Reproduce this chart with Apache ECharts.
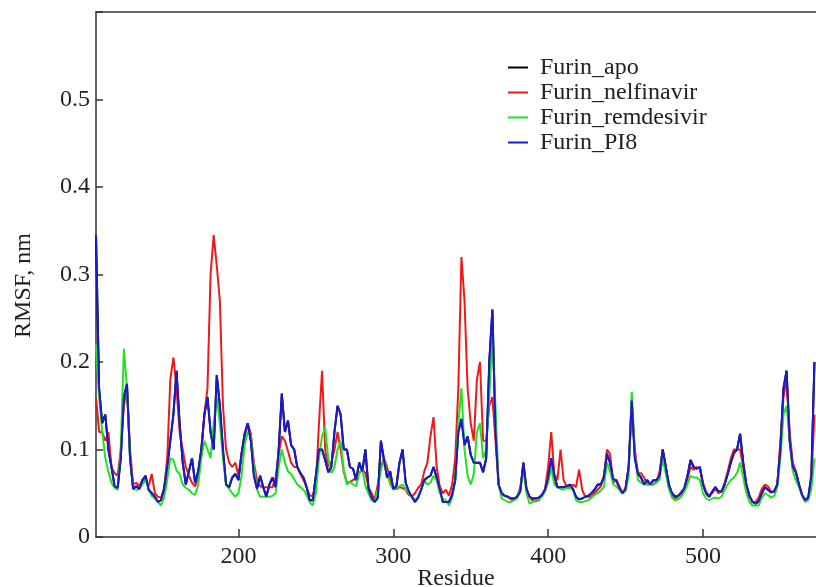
<!DOCTYPE html>
<html>
<head>
<meta charset="utf-8">
<script src="https://cdn.jsdelivr.net/npm/echarts@6/dist/echarts.min.js"></script>
<style>html,body{margin:0;padding:0;background:#fff}#c{width:816px;height:587px}</style>
</head>
<body>
<div id="c"></div>
<script>
// Residue numbers sampled every 2 residues from 108 to 572
const residueStart = 108, residueStep = 2;
const seriesNames = ['Furin_apo', 'Furin_nelfinavir', 'Furin_remdesivir', 'Furin_PI8'];
const xTickValues = [200, 300, 400, 500];

const nelfinavirValues = [
0.16,0.12,0.12,0.11,0.12,0.08,0.073,0.07,0.1,0.15,
0.17,0.1,0.06,0.062,0.058,0.065,0.065,0.058,0.072,0.05,
0.046,0.045,0.056,0.09,0.18,0.205,0.17,0.12,0.1,0.08,
0.07,0.062,0.058,0.068,0.095,0.14,0.17,0.3,0.345,0.31,
0.27,0.15,0.1,0.085,0.08,0.085,0.07,0.095,0.113,0.13,
0.118,0.085,0.065,0.058,0.057,0.057,0.057,0.057,0.068,0.095,
0.115,0.11,0.098,0.085,0.08,0.08,0.072,0.065,0.057,0.048,
0.046,0.06,0.13,0.19,0.1,0.08,0.085,0.1,0.12,0.1,
0.075,0.062,0.063,0.065,0.068,0.073,0.077,0.073,0.057,0.05,
0.043,0.06,0.08,0.09,0.08,0.065,0.055,0.055,0.057,0.056,
0.054,0.048,0.046,0.05,0.056,0.06,0.075,0.085,0.115,0.137,
0.08,0.058,0.05,0.054,0.047,0.06,0.09,0.17,0.32,0.27,
0.17,0.13,0.11,0.18,0.2,0.11,0.11,0.15,0.16,0.11,
0.06,0.05,0.047,0.046,0.043,0.043,0.046,0.057,0.08,0.055,
0.046,0.041,0.041,0.042,0.048,0.055,0.08,0.12,0.072,0.065,
0.1,0.065,0.058,0.058,0.06,0.057,0.077,0.054,0.046,0.046,
0.046,0.05,0.054,0.058,0.07,0.1,0.095,0.062,0.065,0.058,
0.05,0.056,0.078,0.15,0.1,0.073,0.073,0.068,0.06,0.06,
0.06,0.063,0.075,0.1,0.08,0.056,0.047,0.042,0.047,0.052,
0.055,0.066,0.08,0.077,0.08,0.078,0.062,0.052,0.047,0.05,
0.055,0.05,0.052,0.062,0.075,0.09,0.1,0.1,0.1,0.08,
0.058,0.047,0.04,0.04,0.045,0.055,0.06,0.058,0.052,0.052,
0.06,0.11,0.16,0.18,0.12,0.085,0.075,0.06,0.048,0.042,
0.045,0.065,0.14];

const remdesivirValues = [
0.22,0.16,0.12,0.09,0.075,0.062,0.056,0.054,0.1,0.215,
0.17,0.09,0.055,0.054,0.055,0.06,0.065,0.055,0.047,0.044,
0.04,0.036,0.045,0.065,0.09,0.088,0.076,0.072,0.06,0.056,
0.054,0.05,0.048,0.06,0.09,0.11,0.1,0.09,0.13,0.16,
0.13,0.09,0.06,0.055,0.05,0.046,0.05,0.07,0.105,0.12,
0.115,0.08,0.054,0.046,0.046,0.046,0.046,0.047,0.05,0.08,
0.1,0.085,0.075,0.072,0.066,0.06,0.057,0.054,0.048,0.04,
0.036,0.05,0.09,0.115,0.125,0.09,0.073,0.08,0.1,0.11,
0.077,0.06,0.063,0.06,0.058,0.073,0.078,0.058,0.05,0.042,
0.04,0.055,0.077,0.088,0.072,0.06,0.054,0.056,0.058,0.06,
0.055,0.05,0.046,0.042,0.046,0.054,0.064,0.06,0.062,0.07,
0.065,0.05,0.044,0.042,0.036,0.045,0.065,0.13,0.17,0.1,
0.07,0.06,0.072,0.12,0.13,0.09,0.1,0.16,0.23,0.15,
0.06,0.044,0.042,0.04,0.04,0.042,0.044,0.055,0.077,0.05,
0.038,0.04,0.042,0.043,0.046,0.052,0.062,0.08,0.06,0.057,
0.055,0.054,0.056,0.056,0.054,0.042,0.04,0.04,0.041,0.042,
0.045,0.048,0.05,0.053,0.057,0.085,0.075,0.06,0.058,0.054,
0.05,0.052,0.07,0.166,0.095,0.065,0.062,0.06,0.06,0.06,
0.06,0.062,0.066,0.09,0.072,0.055,0.045,0.042,0.043,0.046,
0.052,0.06,0.07,0.068,0.068,0.065,0.05,0.044,0.042,0.044,
0.045,0.044,0.046,0.054,0.06,0.065,0.068,0.073,0.085,0.068,
0.05,0.04,0.036,0.036,0.036,0.045,0.05,0.048,0.045,0.047,
0.057,0.09,0.14,0.15,0.11,0.075,0.065,0.057,0.047,0.04,
0.042,0.055,0.09];

const pi8Values = [
0.345,0.17,0.13,0.14,0.1,0.08,0.058,0.056,0.09,0.16,
0.175,0.09,0.055,0.058,0.055,0.065,0.07,0.054,0.05,0.046,
0.04,0.042,0.055,0.08,0.11,0.14,0.19,0.13,0.085,0.06,
0.075,0.09,0.062,0.075,0.1,0.14,0.16,0.12,0.1,0.185,
0.15,0.1,0.06,0.057,0.068,0.072,0.065,0.095,0.118,0.13,
0.11,0.07,0.055,0.07,0.057,0.046,0.06,0.068,0.057,0.1,
0.164,0.12,0.133,0.105,0.1,0.08,0.073,0.068,0.057,0.042,
0.042,0.07,0.1,0.1,0.088,0.074,0.08,0.12,0.15,0.14,
0.1,0.1,0.08,0.078,0.065,0.085,0.075,0.1,0.055,0.045,
0.04,0.045,0.11,0.088,0.068,0.075,0.055,0.058,0.085,0.1,
0.062,0.052,0.046,0.04,0.045,0.054,0.065,0.068,0.07,0.08,
0.068,0.055,0.04,0.04,0.04,0.048,0.065,0.12,0.135,0.105,
0.115,0.094,0.085,0.085,0.085,0.074,0.09,0.2,0.26,0.12,
0.06,0.05,0.047,0.046,0.044,0.044,0.046,0.052,0.085,0.055,
0.046,0.044,0.044,0.045,0.048,0.054,0.068,0.09,0.07,0.057,
0.057,0.057,0.058,0.06,0.055,0.046,0.043,0.044,0.046,0.047,
0.05,0.054,0.06,0.06,0.068,0.095,0.085,0.066,0.065,0.056,
0.05,0.055,0.08,0.156,0.09,0.072,0.068,0.06,0.065,0.06,
0.065,0.065,0.07,0.1,0.08,0.06,0.05,0.046,0.047,0.05,
0.056,0.07,0.088,0.08,0.078,0.08,0.06,0.05,0.046,0.052,
0.057,0.052,0.052,0.06,0.072,0.085,0.096,0.1,0.118,0.085,
0.06,0.047,0.04,0.038,0.041,0.05,0.057,0.054,0.051,0.052,
0.06,0.1,0.17,0.19,0.11,0.08,0.074,0.06,0.048,0.042,
0.045,0.07,0.2];

// apo profile coincides with PI8 and is hidden underneath the other traces
const apoValues = pi8Values;

const colors = ['#000000', '#ee1a1a', '#22e022', '#1a1acc'];
const valueSets = [apoValues, nelfinavirValues, remdesivirValues, pi8Values];

function pairs(vals) {
  return vals.map((v, i) => [residueStart + i * residueStep, v]);
}

const font = 'Liberation Serif, DejaVu Serif, serif';
const chart = echarts.init(document.getElementById('c'), null, {renderer: 'canvas'});
chart.setOption({
  animation: false,
  backgroundColor: '#fff',
  grid: {left: 96, right: 0, top: 12, bottom: 50, containLabel: false, outerBoundsMode: 'none'},
  legend: {
    orient: 'vertical', left: 503, top: 50, itemGap: 0,
    icon: 'rect', itemWidth: 20, itemHeight: 2,
    data: seriesNames,
    textStyle: {fontFamily: font, fontSize: 24, color: '#222', lineHeight: 25, padding: [0, 0, 0, 7]}
  },
  xAxis: [{
    type: 'value', min: 108, max: 573, position: 'bottom',
    name: 'Residue', nameLocation: 'middle', nameGap: 30, nameMoveOverlap: false,
    nameTextStyle: {fontFamily: font, fontSize: 24, color: '#222', verticalAlign: 'top'},
    axisLine: {show: true, lineStyle: {color: '#333', width: 1.5}},
    axisTick: {show: true, inside: true, length: 8, customValues: xTickValues, lineStyle: {color: '#333', width: 1.5}},
    axisLabel: {fontFamily: font, fontSize: 24, color: '#222', margin: 8, customValues: xTickValues},
    splitLine: {show: false}
  }, {
    type: 'value', min: 108, max: 573, position: 'top',
    axisLine: {show: true, lineStyle: {color: '#333', width: 1.5}},
    axisTick: {show: false}, axisLabel: {show: false}, splitLine: {show: false}
  }],
  yAxis: {
    type: 'value', min: 0, max: 0.6, interval: 0.1,
    name: 'RMSF, nm', nameLocation: 'middle', nameGap: 60, nameMoveOverlap: false,
    nameTextStyle: {fontFamily: font, fontSize: 24, color: '#222', padding: [0, 22, 0, 0]},
    axisLine: {show: true, lineStyle: {color: '#333', width: 1.5}},
    axisTick: {show: true, inside: true, length: 7, lineStyle: {color: '#333', width: 1.5}},
    axisLabel: {
      fontFamily: font, fontSize: 24, color: '#222', margin: 6,
      formatter: v => (v > 0.55 ? '' : (v === 0 ? '0' : v.toFixed(1)))
    },
    splitLine: {show: false}
  },
  series: seriesNames.map((n, i) => ({
    name: n, type: 'line', data: pairs(valueSets[i]),
    showSymbol: false, symbol: 'none',
    lineStyle: {color: colors[i], width: 2},
    itemStyle: {color: colors[i]},
    z: 2 + i
  }))
});
</script>
</body>
</html>
